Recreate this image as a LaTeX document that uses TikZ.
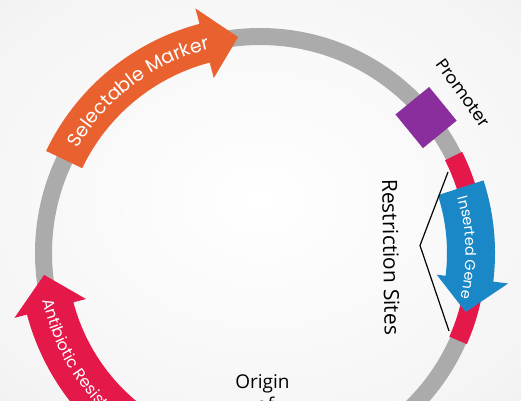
\documentclass[tikz,border=0pt]{standalone}
\usepackage{fontspec}
\setmainfont{Open Sans}
\newfontfamily\pop{Poppins}
\newfontfamily\osans{Open Sans}
\usetikzlibrary{decorations.text}
\definecolor{ringgray}{HTML}{ABABAB}
\definecolor{morange}{HTML}{E9612F}
\definecolor{mred}{HTML}{E5184A}
\definecolor{mblue}{HTML}{1A88C6}
\definecolor{mpurple}{HTML}{8A2E9D}
\pgfdeclareradialshading{bgshade}{\pgfpoint{0bp}{0bp}}{color(0bp)=(white); color(30bp)=(white!96!black); color(72bp)=(white!87!black)}
\tikzset{
  ring/.style={ringgray, line width=17pt},
  lbl/.style={black, inner sep=0pt},
  arclabel/.style={decorate, decoration={text along path, text color=white, #1}},
}
\begin{document}
\begin{tikzpicture}[x=1pt,y=1pt]
\useasboundingbox (0,0) rectangle (521,400);
\shade[shading=bgshade] (0,0) rectangle (521,400);
\begin{scope}[shift={(260,147)}]
  % plasmid ring
  \draw[ring] (0,0) circle[radius=216.5pt];
  % restriction region (red)
  \draw[mred, line width=19pt] (26.6:216.5pt) arc[start angle=26.6, end angle=-23.8, radius=216.5pt];
  % promoter
  \node[fill=mpurple, minimum size=43.5pt, inner sep=0pt, rotate=39.2] (promsq) at (39.2:214.3pt) {};
  \node[lbl, rotate=-54, font=\pop\fontsize{17}{20}\selectfont] (prom) at (38.2:258.5pt) {Promoter};
  % selectable marker arrow
  \fill[morange] (154.5:237pt) arc[start angle=154.5, end angle=104.8, radius=237pt]
     -- (104.8:253pt) -- (95.8:217pt) -- (104.8:181pt) -- (104.8:197pt)
     arc[start angle=104.8, end angle=154.5, radius=197pt] -- cycle;
  \path[arclabel={text={|\pop\fontsize{19}{22}\selectfont|Selectable Marker}, text align=center}]
     (162:210pt) arc[start angle=162, end angle=92, radius=210pt];
  % antibiotic resistance arrow
  \fill[mred] (245:241pt) arc[start angle=245, end angle=194.8, radius=241pt]
     -- (194.8:254pt) -- (185.8:217pt) -- (194.8:180pt) -- (194.8:193pt)
     arc[start angle=194.8, end angle=245, radius=193pt] -- cycle;
  \path[arclabel={text={|\pop\fontsize{16}{19}\selectfont|Antibiotic Resistance}, text align=left}]
     (192.3:222.5pt) arc[start angle=192.3, end angle=265, radius=222.5pt];
  % inserted gene arrow
  \fill[mblue] (18:235pt) arc[start angle=18, end angle=-7, radius=235pt]
     -- (-7:250pt) -- (-16:214pt) -- (-7:178pt) -- (-7:187pt)
     arc[start angle=-7, end angle=18, radius=187pt] -- cycle;
  \path[arclabel={text={|\pop\fontsize{14.5}{17}\selectfont|Inserted Gene}, text align=center}]
     (31.5:205.5pt) arc[start angle=31.5, end angle=-28.5, radius=205.5pt];
  % restriction sites bracket
  \coordinate (b1) at (188,81);
  \coordinate (bv) at (160,7.5);
  \coordinate (b2) at (189,-78);
  \draw[line width=1.2pt] (b1) -- (bv) -- (b2);
  \node[lbl, rotate=-89, font=\osans\fontsize{21}{24}\selectfont] (rs) at (131,-4) {Restriction Sites};
  % origin of replication
  \node[lbl, anchor=base, font=\osans\fontsize{19}{22}\selectfont] (ori1) at (2.5,-135) {Origin};
  \node[lbl, anchor=base, font=\osans\fontsize{19}{22}\selectfont] (ori2) at (5,-158) {of};
\end{scope}
\end{tikzpicture}
\end{document}
